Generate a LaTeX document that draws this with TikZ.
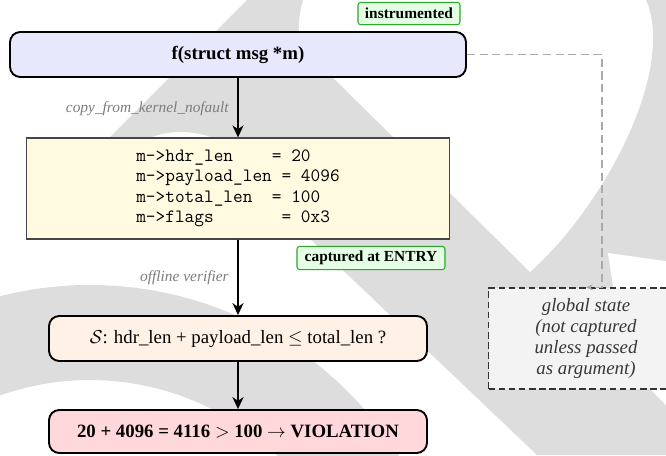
\documentclass[tikz,border=0pt]{standalone}
\usepackage{fontspec}
\setmainfont{Liberation Serif}
\usetikzlibrary{arrows.meta}
\definecolor{wm}{RGB}{221,221,221}
\definecolor{fboxc}{RGB}{232,232,253}
\definecolor{yboxc}{RGB}{255,250,224}
\definecolor{sboxc}{RGB}{255,241,230}
\definecolor{vboxc}{RGB}{255,216,219}
\definecolor{tagfill}{RGB}{229,255,229}
\definecolor{tagdraw}{RGB}{40,170,40}
\definecolor{gfill}{RGB}{243,243,243}
\definecolor{lblc}{RGB}{125,125,125}
\definecolor{gtext}{RGB}{55,55,55}
\definecolor{ydraw}{RGB}{70,70,70}
\definecolor{conn}{RGB}{170,170,170}
\tikzset{
  mainbox/.style={draw=black, line width=1.1pt, rounded corners=6pt, inner sep=0pt,
    font=\fontsize{11}{13}\selectfont},
  codebox/.style={draw=ydraw, line width=0.75pt, fill=yboxc, inner sep=0pt,
    minimum width=247.4pt, minimum height=59.06pt, align=left,
    font=\fontsize{11}{12}\selectfont\ttfamily},
  tagbox/.style={draw=tagdraw, line width=0.6pt, fill=tagfill, rounded corners=1.5pt,
    inner sep=0pt, font=\fontsize{9}{11}\selectfont\bfseries},
  edgelbl/.style={inner sep=0pt, text=lblc, font=\fontsize{9}{11}\selectfont\itshape},
  globbox/.style={draw=black!80, line width=0.75pt, dash pattern=on 3.9pt off 2pt,
    fill=gfill, inner sep=0pt, minimum width=114pt, minimum height=59.06pt,
    align=center, text=gtext, font=\fontsize{11}{12.3}\selectfont\itshape},
  flowarrow/.style={line width=1.1pt, -{Stealth[length=7pt,width=6.5pt,inset=2.2pt]}},
  globconn/.style={draw=conn, line width=0.8pt, dash pattern=on 4.8pt off 2.6pt,
    -{Stealth[length=4pt,width=3.6pt]}}
}
\begin{document}
\begin{tikzpicture}[x=0.5848pt,y=-0.5848pt]
\useasboundingbox (0,0) rectangle (666,455);
% background watermark
\begin{scope}
  \clip (0,0) rectangle (666,455);
  \fill[wm] (247,0) -- (666,0) -- (666,455) -- (537,455) -- (307,236) -- (60,236) -- (60,187) -- cycle;
  \fill[white] (300,45) .. controls (297,25) and (300,8) .. (305,-5) -- (646,-5) -- (646,0)
     .. controls (676,70) and (605,205) .. (530,272) -- cycle;
  \fill[white] (181,218) circle[radius=86];
  \fill[white] (608,253) -- (672,262) -- (672,411) -- (650,389) -- (615,300) -- cycle;
  \draw[wm, line width=55.6pt] (90,650) ++(-112:317.5) arc[start angle=-112, end angle=-15, radius=317.5];
\end{scope}
% nodes
\node[mainbox, fill=fboxc, minimum width=266.67pt, minimum height=26.32pt, font=\fontsize{11}{13}\selectfont\bfseries]
  (fn) at (238,54.5) {f(struct msg *m)};
\node[tagbox, minimum width=59.65pt, minimum height=13pt] (inst) at (409,13.5) {instrumented};
\node[codebox] (cap) at (238,188.5) {m->hdr\_len~~~~=~20\\m->payload\_len~=~4096\\m->total\_len~~=~100\\m->flags~~~~~~~=~0x3};
\node[tagbox, minimum width=86.55pt, minimum height=13.5pt] (entry) at (371,258) {captured at ENTRY};
\node[mainbox, fill=sboxc, minimum width=221.05pt, minimum height=26.32pt]
  (chk) at (238,338.5) {$\mathcal{S}$: hdr\_len + payload\_len $\leq$ total\_len ?};
\node[mainbox, fill=vboxc, minimum width=221.05pt, minimum height=25.15pt, font=\fontsize{11}{13}\selectfont\bfseries]
  (viol) at (238,431.5) {20 + 4096 = 4116 $>$ 100 $\rightarrow$ VIOLATION};
\node[globbox] (glob) at (586,338.5) {global state\\(not captured\\unless passed\\as argument)};
% edge labels
\node[edgelbl, anchor=base east] (l1) at (229,112) {copy\_from\_kernel\_nofault};
\node[edgelbl, anchor=base east] (l2) at (229,281) {offline verifier};
% connectors
\draw[flowarrow] (fn.south) -- (cap.north);
\draw[flowarrow] (cap.south) -- (chk.north);
\draw[flowarrow] (chk.south) -- (viol.north);
\coordinate (bend) at (602,54.5);
\draw[globconn] (fn.east) -- (bend) |- (glob.north);
\end{tikzpicture}
\end{document}
